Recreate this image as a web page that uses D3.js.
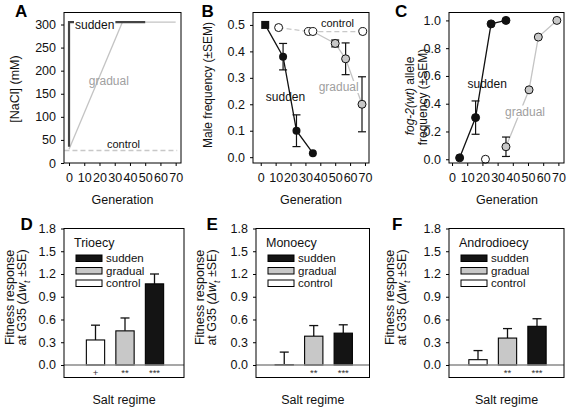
<!DOCTYPE html>
<html><head><meta charset="utf-8">
<script src="https://cdn.jsdelivr.net/npm/d3@7"></script>
<style>
body{margin:0;background:#fff}
svg{display:block}
text{font-family:"Liberation Sans",Arial,sans-serif}
</style></head><body>
<svg id="c" width="567" height="408"></svg>
<script>
// ---------- DATA ----------
// Panel A : [NaCl] (mM) by generation
const aSuddenGen = [0, 0, 50];
const aSuddenNaCl = [35, 305, 305];
const aGradualGen = [0, 35, 70];
const aGradualNaCl = [30, 305, 305];
const aControlGen = [-3, 71];
const aControlNaCl = [27, 27];
const aXTicks = [0, 10, 20, 30, 40, 50, 60, 70];
const aYTicks = [0, 50, 100, 150, 200, 250, 300];

// Panel B : male frequency
const bSuddenGen = [3, 15, 24, 35];
const bSuddenVal = [0.5, 0.38, 0.1, 0.015];
const bSuddenErr = [0, 0.05, 0.06, 0];
const bGradualGen = [35, 50, 57, 68];
const bGradualVal = [0.475, 0.43, 0.372, 0.2];
const bGradualErr = [0, 0.013, 0.06, 0.104];
const bControlGen = [12, 32, 68.5];
const bControlVal = [0.49, 0.475, 0.475];
const bYTicks = [0, 0.1, 0.2, 0.3, 0.4, 0.5];

// Panel C : fog-2(wt) allele frequency
const cSuddenGen = [5, 15.5, 25.7, 35.5];
const cSuddenVal = [0.01, 0.30, 0.975, 1.0];
const cSuddenErr = [0, 0.12, 0, 0];
const cEarlyGen = [22];
const cEarlyVal = [0];
const cGradualGen = [35.5, 50.7, 56.8, 69];
const cGradualVal = [0.09, 0.5, 0.88, 1.0];
const cGradualErr = [0.07, 0, 0, 0];
const cYTicks = [0, 0.2, 0.4, 0.6, 0.8, 1.0];

// Panels D-F : fitness response at G35
const categories = ["control", "gradual", "sudden"];
const legendOrder = ["sudden", "gradual", "control"];
const dVals = [0.33, 0.45, 1.07];
const dErr = [0.195, 0.17, 0.13];
const dSig = ["+", "**", "***"];
const eVals = [0.005, 0.38, 0.42];
const eErr = [0.165, 0.14, 0.11];
const eSig = ["", "**", "***"];
const fVals = [0.07, 0.355, 0.51];
const fErr = [0.12, 0.125, 0.10];
const fSig = ["", "**", "***"];
const barYTicks = [0, 0.3, 0.6, 0.9, 1.2, 1.5, 1.8];

// ---------- STYLE ----------
const FF = '"Liberation Sans",Arial,sans-serif';
const TICKF = 12.5, TITLEF = 12.5;
const barFill = {control: "#ffffff", gradual: "#c8c8c8", sudden: "#141414"};
const svg = d3.select('#c');

function frame(L, R, T, B) {
  svg.append('rect').attr('x', L).attr('y', T).attr('width', R - L).attr('height', B - T)
    .attr('fill', 'none').attr('stroke', '#000').attr('stroke-width', 1);
}
function styleAxis(g) {
  g.select('.domain').remove();
  g.attr('font-family', FF).attr('font-size', TICKF);
  g.selectAll('text').attr('fill', '#111');
  g.selectAll('line').attr('stroke', '#000');
}
function yAxis(L, y, ticks, fmt) {
  const g = svg.append('g').attr('transform', `translate(${L},0)`)
    .call(d3.axisLeft(y).tickValues(ticks).tickFormat(fmt).tickSize(3).tickPadding(5));
  styleAxis(g);
}
function xAxis(B, x, ticks) {
  const g = svg.append('g').attr('transform', `translate(0,${B})`)
    .call(d3.axisBottom(x).tickValues(ticks).tickFormat(d3.format('d')).tickSize(3).tickPadding(7.5));
  styleAxis(g);
}
function label(txt, x, y, opts = {}) {
  const t = svg.append('text').attr('x', x).attr('y', y).text(txt)
    .attr('font-size', opts.size || 12).attr('fill', opts.fill || '#111')
    .attr('text-anchor', opts.anchor || 'start');
  if (opts.weight) t.attr('font-weight', opts.weight);
  if (opts.bg) {
    const bb = t.node().getBBox();
    svg.insert('rect', () => t.node()).attr('x', bb.x - 1).attr('y', bb.y + 1)
      .attr('width', bb.width + 2).attr('height', bb.height - 2).attr('fill', '#fff');
  }
  return t;
}
function rotLabel(x, y, parts, size) {
  const t = svg.append('text').attr('transform', `translate(${x},${y}) rotate(-90)`)
    .attr('text-anchor', 'middle').attr('dominant-baseline', 'central')
    .attr('font-size', size).attr('fill', '#111');
  parts.forEach(p => {
    const s = t.append('tspan').text(p.t);
    if (p.i) s.attr('font-style', 'italic');
    if (p.sub) s.attr('font-size', size * 0.7).attr('baseline-shift', 'sub');
  });
  return t;
}
function errBars(x, y, gens, vals, errs) {
  gens.forEach((g, i) => {
    if (!errs[i]) return;
    const xc = x(g), y1 = y(vals[i] - errs[i]), y2 = y(vals[i] + errs[i]);
    svg.append('line').attr('x1', xc).attr('x2', xc).attr('y1', y1).attr('y2', y2).attr('stroke', '#111').attr('stroke-width', 1.2);
    [y1, y2].forEach(yy => svg.append('line').attr('x1', xc - 4).attr('x2', xc + 4).attr('y1', yy).attr('y2', yy).attr('stroke', '#111').attr('stroke-width', 1.2));
  });
}
function path(x, y, gens, vals, stroke, w, dash) {
  const p = svg.append('path').datum(gens.map((g, i) => [g, vals[i]]))
    .attr('d', d3.line().x(d => x(d[0])).y(d => y(d[1])))
    .attr('fill', 'none').attr('stroke', stroke).attr('stroke-width', w);
  if (dash) p.attr('stroke-dasharray', dash);
}
function dots(x, y, gens, vals, fill) {
  gens.forEach((g, i) => {
    svg.append('circle').attr('cx', x(g)).attr('cy', y(vals[i])).attr('r', 4)
      .attr('fill', Array.isArray(fill) ? fill[i] : fill).attr('stroke', '#111').attr('stroke-width', 1);
  });
}

// ---------- TOP ROW ----------
const topT = 12.5, topB = 163;

// Panel A
{
  const L = 64, R = 181;
  const x = d3.scaleLinear().domain([-3.3, 73.5]).range([L, R]);
  const y = d3.scaleLinear().domain([0, 326]).range([topB, topT]);
  path(x, y, aControlGen, aControlNaCl, '#c8c8c8', 1.4, '5,3');
  path(x, y, aGradualGen, aGradualNaCl, '#c4c4c4', 1.3);
  path(x, y, aSuddenGen, aSuddenNaCl, '#444', 2.2);
  frame(L, R, topT, topB);
  yAxis(L, y, aYTicks, d3.format('d'));
  xAxis(topB, x, aXTicks);
  label('sudden', 75, 28.5, {size: 12, bg: true});
  label('gradual', 108.8, 84.5, {size: 12, fill: '#a0a0a0', anchor: 'middle'});
  label('control', 123.5, 148, {size: 11, anchor: 'middle', bg: true});
  rotLabel(15, 89, [{t: '[NaCl] (mM)'}], TITLEF);
  label('Generation', 122.5, 204, {size: TITLEF, anchor: 'middle'});
  label('A', 15, 16.5, {size: 17, weight: 'bold', fill: '#000'});
}

// Panel B
{
  const L = 253, R = 369;
  const x = d3.scaleLinear().domain([-5.2, 72.7]).range([L, R]);
  const y = d3.scaleLinear().domain([-0.022, 0.547]).range([topB, topT]);
  path(x, y, bControlGen, bControlVal, '#c8c8c8', 1.3, '5,3');
  path(x, y, bGradualGen, bGradualVal, '#c4c4c4', 1.3);
  path(x, y, bSuddenGen, bSuddenVal, '#111', 1.3);
  errBars(x, y, bSuddenGen, bSuddenVal, bSuddenErr);
  errBars(x, y, bGradualGen, bGradualVal, bGradualErr);
  label('gradual', 338.7, 91, {size: 12, fill: '#a0a0a0', anchor: 'middle', bg: true});
  dots(x, y, bControlGen, bControlVal, '#fff');
  dots(x, y, bGradualGen, bGradualVal, ['#fff', '#c8c8c8', '#c8c8c8', '#c8c8c8']);
  bSuddenGen.forEach((g, i) => {
    if (i === 0) svg.append('rect').attr('x', x(g) - 4).attr('y', y(bSuddenVal[i]) - 4).attr('width', 8).attr('height', 8).attr('fill', '#111');
    else svg.append('circle').attr('cx', x(g)).attr('cy', y(bSuddenVal[i])).attr('r', 4).attr('fill', '#111');
  });
  frame(L, R, topT, topB);
  yAxis(L, y, bYTicks, d3.format('.1f'));
  xAxis(topB, x, aXTicks);
  label('control', 337.5, 26.5, {size: 11, anchor: 'middle'});
  label('sudden', 285.5, 101, {size: 12, anchor: 'middle'});
  rotLabel(208.3, 85, [{t: 'Male frequency (±SEM)'}], 12);
  label('Generation', 311, 204, {size: TITLEF, anchor: 'middle'});
  label('B', 201.5, 16.5, {size: 17, weight: 'bold', fill: '#000'});
}

// Panel C
{
  const L = 449, R = 564;
  const x = d3.scaleLinear().domain([-2, 73.7]).range([L, R]);
  const y = d3.scaleLinear().domain([-0.027, 1.057]).range([topB, topT]);
  path(x, y, cGradualGen, cGradualVal, '#c4c4c4', 1.3);
  path(x, y, cSuddenGen, cSuddenVal, '#111', 1.3);
  label('gradual', 525, 115.5, {size: 12, fill: '#a0a0a0', anchor: 'middle', bg: true});
  errBars(x, y, cSuddenGen, cSuddenVal, cSuddenErr);
  errBars(x, y, cGradualGen, cGradualVal, cGradualErr);
  dots(x, y, cEarlyGen, cEarlyVal, '#fff');
  dots(x, y, cGradualGen, cGradualVal, '#c8c8c8');
  dots(x, y, cSuddenGen, cSuddenVal, '#111');
  frame(L, R, topT, topB);
  yAxis(L, y, cYTicks, d3.format('.1f'));
  xAxis(topB, x, aXTicks);
  label('sudden', 487.2, 87.5, {size: 12, anchor: 'middle'});
  rotLabel(410, 96, [{t: 'fog-2(wt)', i: true}, {t: ' allele'}], 12);
  rotLabel(422.5, 97, [{t: 'frequency (±SEM)'}], 12);
  label('Generation', 507, 204, {size: TITLEF, anchor: 'middle'});
  label('C', 395, 16.5, {size: 17, weight: 'bold', fill: '#000'});
}

// ---------- BOTTOM ROW ----------
const botT = 228.5, botB = 377.5;
function barPanel(cfg) {
  const {L, R, vals, errs, sig, title, letter, letterX, ylab1, ylab2} = cfg;
  const y = d3.scaleLinear().domain([-0.165, 1.8]).range([botB, botT]);
  const cx = (L + R) / 2 + 1;
  const x = d3.scaleBand().domain(categories).range([cx - 44.25, cx + 44.25]).paddingInner(0.38).paddingOuter(0.19);
  categories.forEach((c, i) => {
    const v = vals[i];
    const xc = x(c) + x.bandwidth() / 2;
    svg.append('line').attr('x1', xc).attr('x2', xc).attr('y1', y(v)).attr('y2', y(v + errs[i])).attr('stroke', '#111').attr('stroke-width', 1.3);
    svg.append('line').attr('x1', xc - 4.5).attr('x2', xc + 4.5).attr('y1', y(v + errs[i])).attr('y2', y(v + errs[i])).attr('stroke', '#111').attr('stroke-width', 1.3);
    svg.append('rect').attr('x', x(c)).attr('y', y(Math.max(v, 0))).attr('width', x.bandwidth())
      .attr('height', Math.abs(y(v) - y(0))).attr('fill', barFill[c]).attr('stroke', '#000').attr('stroke-width', 1.1);
    if (sig[i]) label(sig[i], xc, 376, {size: 9.5, anchor: 'middle', fill: '#333'});
  });
  svg.append('line').attr('x1', L).attr('x2', R).attr('y1', y(0)).attr('y2', y(0)).attr('stroke', '#8a8a8a').attr('stroke-width', 1.5);
  frame(L, R, botT, botB);
  yAxis(L, y, barYTicks, d3.format('.1f'));
  // legend
  label(title, L + 10, 247, {size: 12.5});
  legendOrder.forEach((c, i) => {
    const yc = 258 + i * 12.5;
    svg.append('rect').attr('x', L + 12).attr('y', yc - 3).attr('width', 26).attr('height', 6.5)
      .attr('fill', barFill[c]).attr('stroke', '#000').attr('stroke-width', 1);
    label(c, L + 42, yc + 4, {size: 11.5});
  });
  rotLabel(ylab1, 297.5, [{t: 'Fitness response'}], TITLEF);
  rotLabel(ylab2, 297.5, [{t: 'at G35 ('}, {t: 'Δw', i: true}, {t: 't', i: true, sub: true}, {t: ' ±SE)'}], TITLEF);
  label('Salt regime', (L + R) / 2, 404, {size: TITLEF, anchor: 'middle'});
  label(letter, letterX, 229.5, {size: 17, weight: 'bold', fill: '#000'});
}
barPanel({L: 64, R: 184, vals: dVals, errs: dErr, sig: dSig, title: 'Trioecy', letter: 'D', letterX: 20.5, ylab1: 9.5, ylab2: 21.5});
barPanel({L: 256, R: 369.5, vals: eVals, errs: eErr, sig: eSig, title: 'Monoecy', letter: 'E', letterX: 206.5, ylab1: 199.5, ylab2: 211.5});
barPanel({L: 449, R: 564, vals: fVals, errs: fErr, sig: fSig, title: 'Androdioecy', letter: 'F', letterX: 392, ylab1: 389.5, ylab2: 401.5});
</script>
</body></html>
